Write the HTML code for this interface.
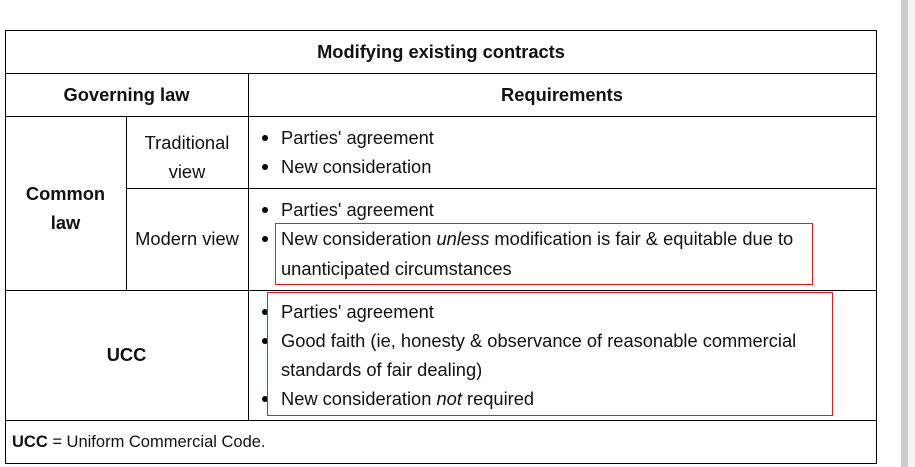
<!DOCTYPE html>
<html><head><style>
body{margin:0;width:915px;height:467px;background:#fff;position:relative;overflow:hidden;font-family:"Liberation Sans",Arial,sans-serif;font-size:18.3px;color:#111;}
.a{position:absolute;}
.h{position:absolute;background:#000;height:1px;}
.v{position:absolute;background:#000;width:1px;}
.t{position:absolute;white-space:nowrap;line-height:20px;}
.b{font-weight:bold;}
.c{text-align:center;}
.dot{position:absolute;width:6px;height:6px;border-radius:50%;background:#000;}
.red{position:absolute;border:1px solid #e02020;}
</style></head><body>
<div class="a" style="left:901px;top:0;width:14px;height:467px;background:#f5f5f5"></div>
<div class="a" style="left:901px;top:0;width:7px;height:467px;background:#cdcdcd"></div>

<div class="h" style="left:5px;top:30px;width:872px"></div>
<div class="h" style="left:5px;top:73px;width:872px"></div>
<div class="h" style="left:5px;top:116px;width:872px"></div>
<div class="h" style="left:126px;top:188px;width:751px"></div>
<div class="h" style="left:5px;top:290px;width:872px"></div>
<div class="h" style="left:5px;top:420px;width:872px"></div>
<div class="h" style="left:5px;top:463px;width:872px"></div>
<div class="v" style="left:5px;top:30px;height:434px"></div>
<div class="v" style="left:876px;top:30px;height:434px"></div>
<div class="v" style="left:248px;top:73px;height:347px"></div>
<div class="v" style="left:126px;top:116px;height:174px"></div>

<div class="t b c" style="left:5px;width:872px;top:42px">Modifying existing contracts</div>
<div class="t b c" style="left:5px;width:243px;top:85px">Governing law</div>
<div class="t b c" style="left:248px;width:628px;top:85px">Requirements</div>
<div class="t c" style="left:126px;width:122px;top:128px;line-height:29px">Traditional<br>view</div>
<div class="t b c" style="left:5px;width:121px;top:179px;line-height:29px">Common<br>law</div>
<div class="t c" style="left:126px;width:122px;top:229px">Modern view</div>
<div class="t b c" style="left:5px;width:243px;top:345px">UCC</div>

<div class="dot" style="left:262px;top:135px"></div><div class="t" style="left:281px;top:128px">Parties' agreement</div>
<div class="dot" style="left:262px;top:164px"></div><div class="t" style="left:281px;top:157px">New consideration</div>
<div class="dot" style="left:262px;top:207px"></div><div class="t" style="left:281px;top:200px">Parties' agreement</div>
<div class="dot" style="left:262px;top:236px"></div><div class="t" style="left:281px;top:229px">New consideration <i>unless</i> modification is fair &amp; equitable due to</div>
<div class="t" style="left:281px;top:259px">unanticipated circumstances</div>
<div class="red" style="left:275px;top:223px;width:536px;height:60px"></div>

<div class="dot" style="left:262px;top:309px"></div><div class="t" style="left:281px;top:302px">Parties' agreement</div>
<div class="dot" style="left:262px;top:338px"></div><div class="t" style="left:281px;top:331px">Good faith (ie, honesty &amp; observance of reasonable commercial</div>
<div class="t" style="left:281px;top:360px">standards of fair dealing)</div>
<div class="dot" style="left:262px;top:396px"></div><div class="t" style="left:281px;top:389px">New consideration <i>not</i> required</div>
<div class="red" style="left:267px;top:292px;width:564px;height:122px"></div>

<div class="t" style="left:12px;top:432px;font-size:16.5px"><b>UCC</b> = Uniform Commercial Code.</div>
</body></html>
